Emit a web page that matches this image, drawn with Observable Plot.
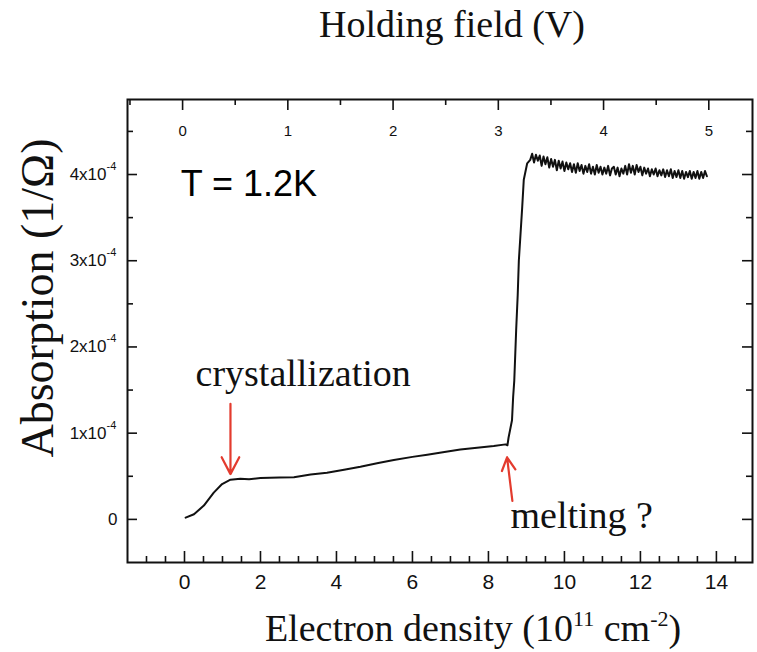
<!DOCTYPE html>
<html><head><meta charset="utf-8">
<script src="https://cdn.jsdelivr.net/npm/d3@7"></script>
<script src="https://cdn.jsdelivr.net/npm/@observablehq/plot@0.6"></script>
<style>body{margin:0;background:#fff}</style>
</head><body><div id="chart"></div>
<script>
// Electron density (10^11 cm^-2)
const density = [0.03,0.25,0.51,0.77,0.99,1.21,1.47,1.7,2.0,2.5,2.88,3.32,3.75,4.2,4.63,5.1,5.51,6.0,6.39,6.8,7.26,7.7,8.14,8.45,8.5,8.53,8.62,8.65,8.68,8.73,8.77,8.80,8.89,8.93,9.02,
9.10,9.15,9.20,9.25,9.30,9.35,9.40,9.45,9.50,9.55,9.60,9.65,9.70,9.75,9.80,9.85,9.90,9.95,10.00,10.05,10.10,10.15,10.20,10.25,10.30,10.35,10.40,10.45,10.50,10.55,10.60,10.65,10.70,10.75,10.80,10.85,10.90,10.95,11.00,11.05,11.10,11.15,11.20,11.25,11.30,11.35,11.40,11.45,11.50,11.55,11.60,11.65,11.70,11.75,11.80,11.85,11.90,11.95,12.00,12.05,12.10,12.15,12.20,12.25,12.30,12.35,12.40,12.45,12.50,12.55,12.60,12.65,12.70,12.75,12.80,12.85,12.90,12.95,13.00,13.05,13.10,13.15,13.20,13.25,13.30,13.35,13.40,13.45,13.50,13.55,13.60,13.65,13.70,13.75];
// Absorption (10^-4 1/Ω)
const absorption = [0.02,0.06,0.16,0.31,0.41,0.46,0.47,0.465,0.48,0.485,0.49,0.52,0.54,0.575,0.61,0.655,0.69,0.725,0.75,0.78,0.81,0.83,0.85,0.87,0.86,0.95,1.15,1.42,1.61,2.2,2.6,3.0,3.63,3.94,4.13,
4.17,4.24,4.14,4.23,4.16,4.22,4.10,4.21,4.12,4.20,4.08,4.18,4.09,4.17,4.05,4.16,4.07,4.15,4.04,4.14,4.06,4.13,4.03,4.12,4.02,4.13,4.04,4.11,4.01,4.10,4.03,4.12,4.01,4.09,4.00,4.11,4.02,4.09,4.00,4.08,4.01,4.10,3.99,4.07,4.09,4.00,4.08,3.98,4.07,4.01,4.10,4.00,4.12,4.02,4.10,4.00,4.11,4.03,4.09,3.99,4.08,4.01,4.07,3.98,4.06,4.00,4.07,3.98,4.05,3.99,4.06,3.97,4.05,3.98,4.06,3.96,4.04,3.97,4.05,3.96,4.04,3.95,4.03,3.97,4.04,3.95,4.03,3.96,4.04,3.95,4.03,3.96,4.04,3.98];

const xMajorTicks = [0,2,4,6,8,10,12,14];
const xMinorTicks = [-1,-0.5,0.5,1,1.5,2.5,3,3.5,4.5,5,5.5,6.5,7,7.5,8.5,9,9.5,10.5,11,11.5,12.5,13,13.5,14.5];
const yMajorTicks = [0,1,2,3,4];
const yMinorTicks = [0.5,1.5,2.5,3.5,4.5];
const yExponent = "-4";
const vMajorTicks = [0,1,2,3,4,5];
const vMinorTicks = [-0.5,0.5,1.5,2.5,3.5,4.5];
const vOffset = -0.05, densityPerVolt = 2.77; // holding field -> density

const labels = [
  {x: -0.1, y: 3.75, text: "T = 1.2K", font: "sans"},
  {x: 0.29, y: 1.55, text: "crystallization", font: "serif"},
  {x: 8.58, y: -0.10, text: "melting ?", font: "serif"}
];
const arrows = [
  {x1: 1.21, y1: 1.34, x2: 1.21, y2: 0.525},
  {x1: 8.63, y1: 0.215, x2: 8.49, y2: 0.72}
];

const data = density.map((d, i) => ({density: d, absorption: absorption[i]}));
const vToD = v => vOffset + densityPerVolt * v;

const W = 757, H = 652, mL = 127, mR = 5, mT = 99, mB = 90;
const innerW = W - mL - mR, innerH = H - mT - mB;
const ink = "#111";
const SERIF = "'Liberation Serif', 'Times New Roman', serif";
const SANS = "'Liberation Sans', Arial, sans-serif";

const chart = Plot.plot({
  width: W, height: H,
  marginLeft: mL, marginRight: mR, marginTop: mT, marginBottom: mB,
  x: {domain: [-1.5, 14.95], label: null, axis: null},
  y: {domain: [-0.5, 4.87], label: null, axis: null},
  style: {fontFamily: SANS, color: ink, background: "#fff"},
  marks: [
    Plot.frame({stroke: ink, strokeWidth: 2}),
    Plot.tickX(xMajorTicks, {x: d => d, insetTop: innerH - 11, stroke: ink, strokeWidth: 1.6}),
    Plot.tickX(xMinorTicks, {x: d => d, insetTop: innerH - 6, stroke: ink, strokeWidth: 1.6}),
    Plot.tickX(vMajorTicks, {x: vToD, insetBottom: innerH - 11, stroke: ink, strokeWidth: 1.6}),
    Plot.tickX(vMinorTicks, {x: vToD, insetBottom: innerH - 6, stroke: ink, strokeWidth: 1.6}),
    Plot.tickY(yMajorTicks, {y: d => d, insetRight: innerW - 10, stroke: ink, strokeWidth: 1.6}),
    Plot.tickY(yMinorTicks, {y: d => d, insetRight: innerW - 6, stroke: ink, strokeWidth: 1.6}),
    Plot.tickY(yMajorTicks, {y: d => d, insetLeft: innerW - 10, stroke: ink, strokeWidth: 1.6}),
    Plot.tickY(yMinorTicks, {y: d => d, insetLeft: innerW - 6, stroke: ink, strokeWidth: 1.6}),
    // bottom tick labels
    Plot.text(xMajorTicks, {x: d => d, text: d => String(d), frameAnchor: "bottom", lineAnchor: "top", dy: 12, fontSize: 21, fill: ink}),
    // left tick labels: mantissa + superscript exponent
    Plot.text(yMajorTicks.filter(d => d === 0), {y: d => d, text: d => "0", frameAnchor: "left", textAnchor: "end", dx: -10, fontSize: 17, fill: ink}),
    Plot.text(yMajorTicks.filter(d => d !== 0), {y: d => d, text: d => `${d}x10`, frameAnchor: "left", textAnchor: "end", dx: -21, fontSize: 17, fill: ink}),
    Plot.text(yMajorTicks.filter(d => d !== 0), {y: d => d, text: d => yExponent, frameAnchor: "left", textAnchor: "start", dx: -21, dy: -8, fontSize: 11, fill: ink}),
    // top tick labels (holding field)
    Plot.text(vMajorTicks, {x: vToD, text: d => String(d), frameAnchor: "top", dy: 26, fontSize: 15, fill: ink}),
    Plot.line(data, {x: "density", y: "absorption", stroke: ink, strokeWidth: 2}),
    Plot.arrow(arrows, {x1: "x1", y1: "y1", x2: "x2", y2: "y2", stroke: "#e33b2e", strokeWidth: 2.2, headLength: 13, headAngle: 55}),
    Plot.text(labels.filter(d => d.font === "sans"), {x: "x", y: "y", text: "text", textAnchor: "start", lineAnchor: "bottom", fontSize: 36, fontFamily: SANS, fill: "#000"}),
    Plot.text(labels.filter(d => d.font === "serif"), {x: "x", y: "y", text: "text", textAnchor: "start", lineAnchor: "bottom", fontSize: 38, fontFamily: SERIF, fill: "#111"})
  ]
});

const svg = d3.select(chart);
svg.append("text").attr("x", 452).attr("y", 37).attr("text-anchor", "middle")
  .attr("font-family", SERIF).attr("font-size", 38).attr("fill", ink).text("Holding field (V)");

const xl = svg.append("text").attr("x", 473).attr("y", 641).attr("text-anchor", "middle")
  .attr("font-family", SERIF).attr("font-size", 38).attr("fill", ink);
xl.append("tspan").text("Electron density (10");
xl.append("tspan").attr("dy", -15).attr("font-size", 22).text("11");
xl.append("tspan").attr("dy", 15).text(" cm");
xl.append("tspan").attr("dy", -15).attr("font-size", 22).text("-2");
xl.append("tspan").attr("dy", 15).text(")");

svg.append("text").attr("transform", "translate(53,298) rotate(-90)").attr("text-anchor", "middle")
  .attr("font-family", SERIF).attr("font-size", 46).attr("fill", ink).text("Absorption (1/Ω)");

document.getElementById("chart").appendChild(chart);
</script>
</body></html>
